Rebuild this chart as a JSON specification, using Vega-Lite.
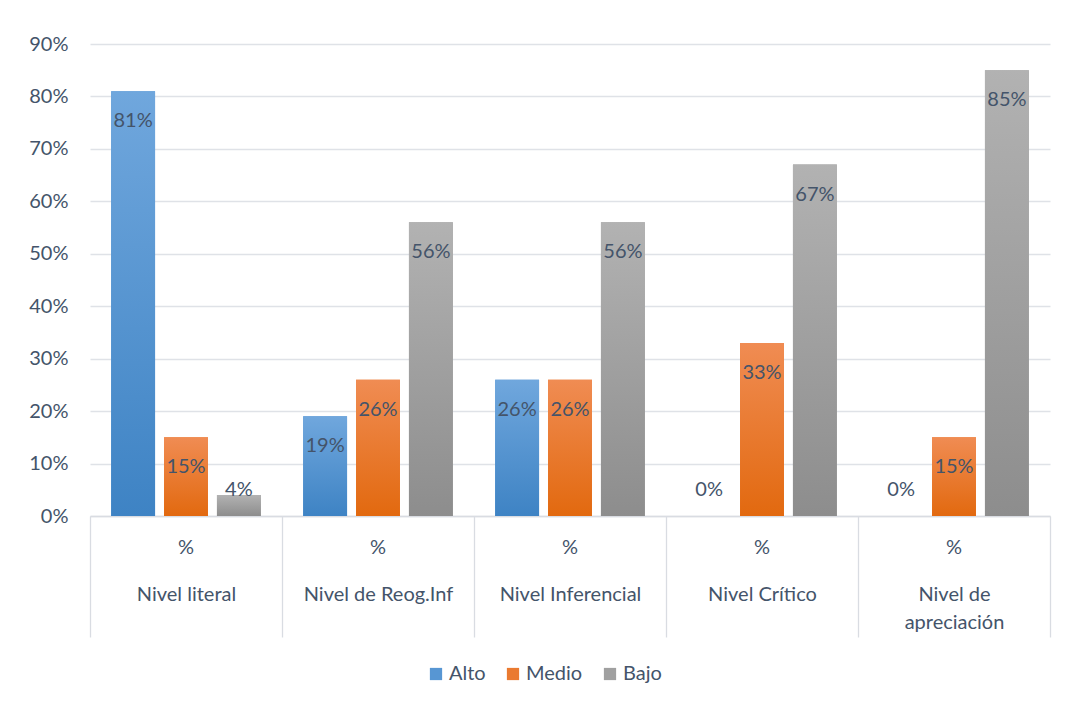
{
  "$schema": "https://vega.github.io/schema/vega-lite/v6.json",
  "width": 960,
  "height": 472,
  "autosize": "none",
  "padding": {"left": 90, "top": 44, "right": 15, "bottom": 190},
  "background": "white",
  "config": {
    "view": {"stroke": null},
    "font": "Lato",
    "text": {"font": "Lato"}
  },
  "data": {
    "values": [
      {"nivel": "Nivel literal", "serie": "Alto", "valor": 0.81},
      {"nivel": "Nivel literal", "serie": "Medio", "valor": 0.15},
      {"nivel": "Nivel literal", "serie": "Bajo", "valor": 0.04},
      {"nivel": "Nivel de Reog.Inf", "serie": "Alto", "valor": 0.19},
      {"nivel": "Nivel de Reog.Inf", "serie": "Medio", "valor": 0.26},
      {"nivel": "Nivel de Reog.Inf", "serie": "Bajo", "valor": 0.56},
      {"nivel": "Nivel Inferencial", "serie": "Alto", "valor": 0.26},
      {"nivel": "Nivel Inferencial", "serie": "Medio", "valor": 0.26},
      {"nivel": "Nivel Inferencial", "serie": "Bajo", "valor": 0.56},
      {"nivel": "Nivel Crítico", "serie": "Alto", "valor": 0},
      {"nivel": "Nivel Crítico", "serie": "Medio", "valor": 0.33},
      {"nivel": "Nivel Crítico", "serie": "Bajo", "valor": 0.67},
      {"nivel": "Nivel de apreciación", "serie": "Alto", "valor": 0},
      {"nivel": "Nivel de apreciación", "serie": "Medio", "valor": 0.15},
      {"nivel": "Nivel de apreciación", "serie": "Bajo", "valor": 0.85}
    ]
  },
  "encoding": {
    "x": {
      "field": "nivel",
      "type": "nominal",
      "sort": null,
      "scale": {"paddingInner": 0, "paddingOuter": 0},
      "axis": {
        "title": null,
        "labelAngle": 0,
        "labelFont": "Lato",
        "labelFontSize": 20,
        "labelColor": "#44546a",
        "labelPadding": -53,
        "labelBaseline": "top",
        "labelLineHeight": 28,
        "labelExpr": "datum.value == 'Nivel de apreciación' ? ['Nivel de', 'apreciación'] : datum.label",
        "tickBand": "extent",
        "tickSize": 121,
        "tickColor": "#d9dce2",
        "tickWidth": 1.3,
        "domainColor": "#d9dce2",
        "domainWidth": 1.3,
        "grid": false
      }
    },
    "y": {
      "field": "valor",
      "type": "quantitative",
      "scale": {"domain": [0, 0.9], "nice": false},
      "axis": {
        "title": null,
        "format": ".0%",
        "values": [0, 0.1, 0.2, 0.3, 0.4, 0.5, 0.6, 0.7, 0.8, 0.9],
        "labelFont": "Lato",
        "labelFontSize": 20,
        "labelColor": "#44546a",
        "labelPadding": 22,
        "ticks": false,
        "domain": false,
        "gridColor": "#dfe2e7",
        "gridWidth": 1.3
      }
    }
  },
  "layer": [
    {
      "mark": {"type": "bar"},
      "encoding": {
        "xOffset": {"field": "serie", "type": "nominal", "scale": {"domain": ["Alto", "Medio", "Bajo"], "paddingInner": 0.17, "paddingOuter": 0.4}},
        "color": {
          "field": "serie",
          "type": "nominal",
          "scale": {"domain": ["Alto", "Medio", "Bajo"], "range": ["#5796d3", "#ea7a30", "#a0a0a0"]},
          "legend": {
            "title": null,
            "orient": "none",
            "legendX": 336,
            "legendY": 620,
            "direction": "horizontal",
            "symbolType": "square",
            "symbolSize": 150,
            "symbolStrokeWidth": 0,
            "labelFont": "Lato",
            "labelFontSize": 20,
            "labelColor": "#44546a",
            "labelOffset": 3,
            "columnPadding": 17
          }
        }
      }
    },
    {
      "transform": [{"filter": "datum.serie == 'Alto'"}],
      "mark": {"type": "bar", "fill": {"gradient": "linear", "x1": 0, "y1": 0, "x2": 0, "y2": 1, "stops": [{"offset": 0, "color": "#70a7dd"}, {"offset": 1, "color": "#3e83c4"}]}},
      "encoding": {"xOffset": {"field": "serie", "type": "nominal"}}
    },
    {
      "transform": [{"filter": "datum.serie == 'Medio'"}],
      "mark": {"type": "bar", "fill": {"gradient": "linear", "x1": 0, "y1": 0, "x2": 0, "y2": 1, "stops": [{"offset": 0, "color": "#f08c53"}, {"offset": 1, "color": "#e2690f"}]}},
      "encoding": {"xOffset": {"field": "serie", "type": "nominal"}}
    },
    {
      "transform": [{"filter": "datum.serie == 'Bajo'"}],
      "mark": {"type": "bar", "fill": {"gradient": "linear", "x1": 0, "y1": 0, "x2": 0, "y2": 1, "stops": [{"offset": 0, "color": "#b2b2b2"}, {"offset": 1, "color": "#8d8d8d"}]}},
      "encoding": {"xOffset": {"field": "serie", "type": "nominal"}}
    },
    {
      "transform": [{"filter": "datum.valor >= 0.1"}],
      "mark": {"type": "text", "baseline": "middle", "dy": 30, "fontSize": 20, "color": "#44546a"},
      "encoding": {"xOffset": {"field": "serie", "type": "nominal"}, "text": {"field": "valor", "format": ".0%"}}
    },
    {
      "transform": [{"filter": "datum.valor < 0.1"}],
      "mark": {"type": "text", "baseline": "middle", "dy": -26, "fontSize": 20, "color": "#44546a"},
      "encoding": {"xOffset": {"field": "serie", "type": "nominal"}, "y": {"datum": 0}, "text": {"field": "valor", "format": ".0%"}}
    },
    {
      "transform": [{"filter": "datum.serie == 'Medio'"}],
      "mark": {"type": "text", "baseline": "middle", "dy": 32, "fontSize": 20, "color": "#44546a", "text": "%"},
      "encoding": {"y": {"datum": 0}}
    }
  ]
}
